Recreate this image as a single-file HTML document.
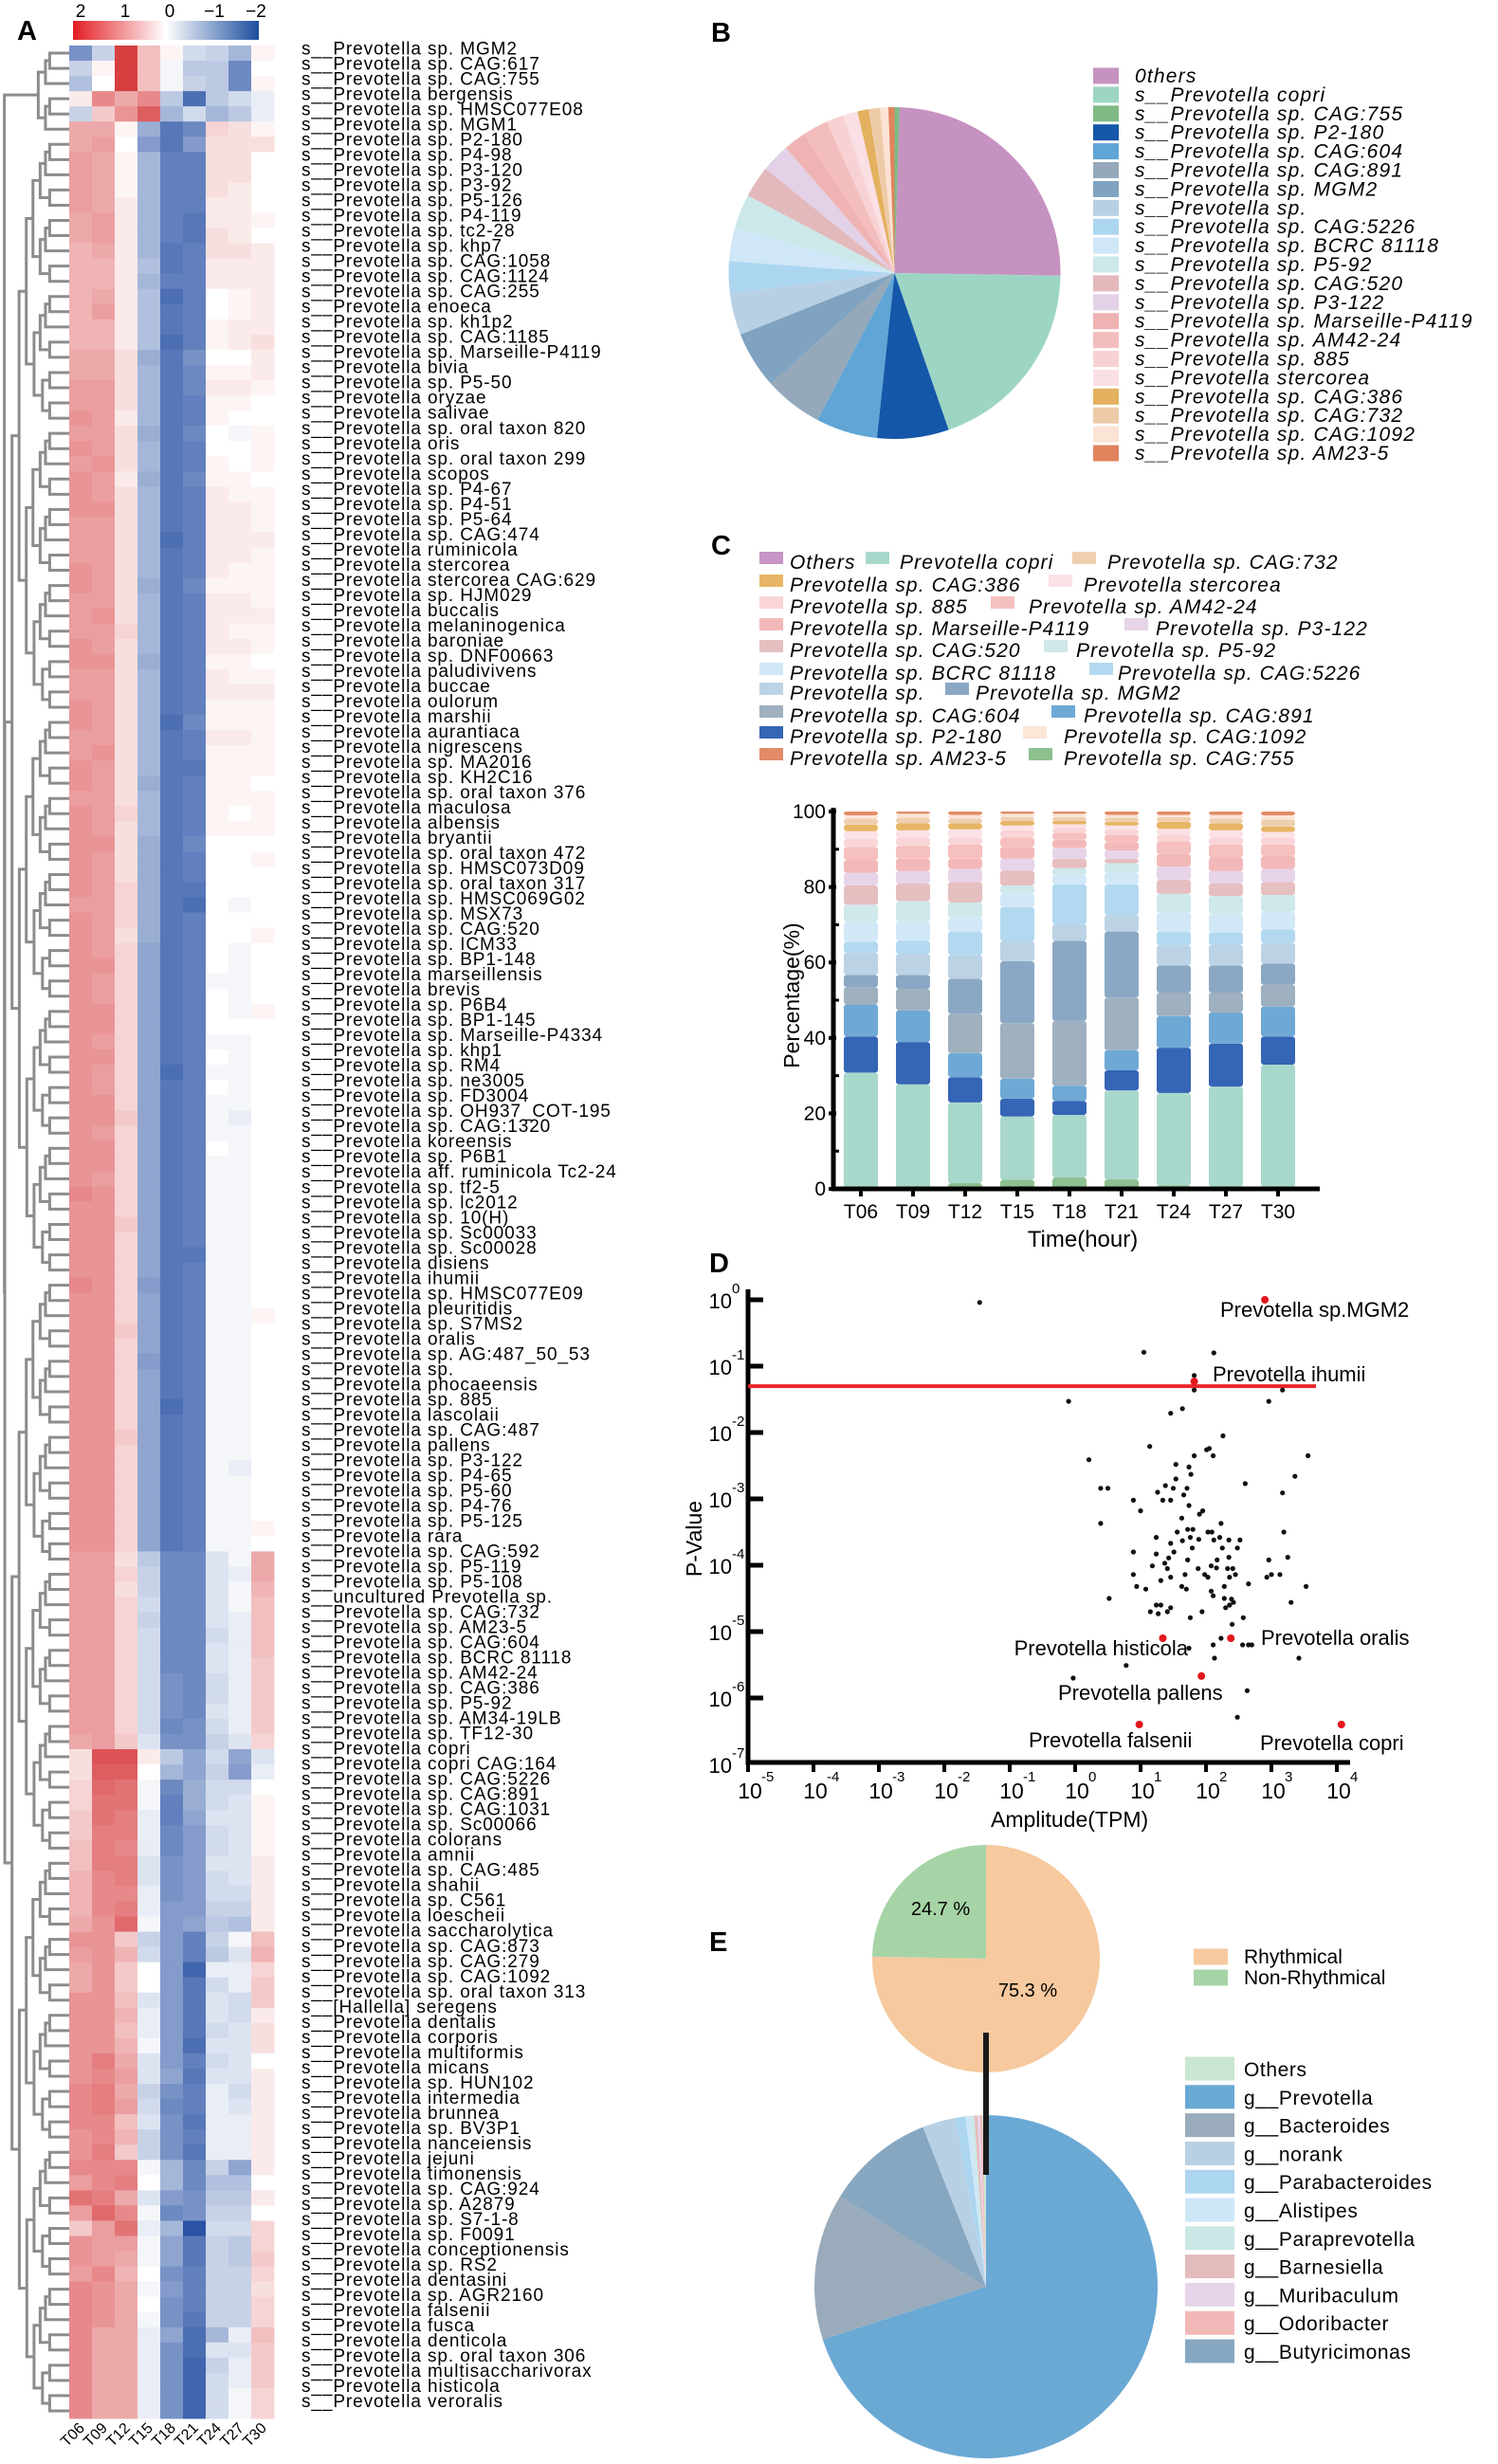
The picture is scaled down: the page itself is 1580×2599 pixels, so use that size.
<!DOCTYPE html>
<html><head><meta charset="utf-8"><title>Prevotella rhythmicity figure</title>
<style>
html,body{margin:0;padding:0;background:#fff;}
svg{display:block;font-family:"Liberation Sans",Arial,sans-serif;}
</style></head>
<body>
<svg id="fig" xmlns="http://www.w3.org/2000/svg" width="1580" height="2599" viewBox="0 0 1580 2599">
<defs>
<linearGradient id="cbar" x1="0" x2="1" y1="0" y2="0">
<stop offset="0" stop-color="#e31e24"/><stop offset="0.5" stop-color="#ffffff"/><stop offset="1" stop-color="#1b4d9e"/>
</linearGradient>
</defs>
<rect x="0" y="0" width="1580" height="2599" fill="#fff"/>
<text x="18" y="42" font-size="29" font-weight="bold">A</text>
<text x="750" y="44" font-size="29" font-weight="bold">B</text>
<text x="750" y="585" font-size="29" font-weight="bold">C</text>
<text x="748" y="1342" font-size="29" font-weight="bold">D</text>
<text x="748" y="2058" font-size="29" font-weight="bold">E</text>
<rect x="77" y="22" width="196" height="20" fill="url(#cbar)"/>
<text x="85" y="18" font-size="19" text-anchor="middle">2</text>
<text x="132" y="18" font-size="19" text-anchor="middle">1</text>
<text x="179" y="18" font-size="19" text-anchor="middle">0</text>
<text x="226" y="18" font-size="19" text-anchor="middle">−1</text>
<text x="270" y="18" font-size="19" text-anchor="middle">−2</text>
</svg>
<script>
// ---------------- Panel A data ----------------
const heatCols = ["T06","T09","T12","T15","T18","T21","T24","T27","T30"];
const species = ["Prevotella sp. MGM2","Prevotella sp. CAG:617","Prevotella sp. CAG:755","Prevotella bergensis","Prevotella sp. HMSC077E08","Prevotella sp. MGM1","Prevotella sp. P2-180","Prevotella sp. P4-98","Prevotella sp. P3-120","Prevotella sp. P3-92","Prevotella sp. P5-126","Prevotella sp. P4-119","Prevotella sp. tc2-28","Prevotella sp. khp7","Prevotella sp. CAG:1058","Prevotella sp. CAG:1124","Prevotella sp. CAG:255","Prevotella enoeca","Prevotella sp. kh1p2","Prevotella sp. CAG:1185","Prevotella sp. Marseille-P4119","Prevotella bivia","Prevotella sp. P5-50","Prevotella oryzae","Prevotella salivae","Prevotella sp. oral taxon 820","Prevotella oris","Prevotella sp. oral taxon 299","Prevotella scopos","Prevotella sp. P4-67","Prevotella sp. P4-51","Prevotella sp. P5-64","Prevotella sp. CAG:474","Prevotella ruminicola","Prevotella stercorea","Prevotella stercorea CAG:629","Prevotella sp. HJM029","Prevotella buccalis","Prevotella melaninogenica","Prevotella baroniae","Prevotella sp. DNF00663","Prevotella paludivivens","Prevotella buccae","Prevotella oulorum","Prevotella marshii","Prevotella aurantiaca","Prevotella nigrescens","Prevotella sp. MA2016","Prevotella sp. KH2C16","Prevotella sp. oral taxon 376","Prevotella maculosa","Prevotella albensis","Prevotella bryantii","Prevotella sp. oral taxon 472","Prevotella sp. HMSC073D09","Prevotella sp. oral taxon 317","Prevotella sp. HMSC069G02","Prevotella sp. MSX73","Prevotella sp. CAG:520","Prevotella sp. ICM33","Prevotella sp. BP1-148","Prevotella marseillensis","Prevotella brevis","Prevotella sp. P6B4","Prevotella sp. BP1-145","Prevotella sp. Marseille-P4334","Prevotella sp. khp1","Prevotella sp. RM4","Prevotella sp. ne3005","Prevotella sp. FD3004","Prevotella sp. OH937_COT-195","Prevotella sp. CAG:1320","Prevotella koreensis","Prevotella sp. P6B1","Prevotella aff. ruminicola Tc2-24","Prevotella sp. tf2-5","Prevotella sp. lc2012","Prevotella sp. 10(H)","Prevotella sp. Sc00033","Prevotella sp. Sc00028","Prevotella disiens","Prevotella ihumii","Prevotella sp. HMSC077E09","Prevotella pleuritidis","Prevotella sp. S7MS2","Prevotella oralis","Prevotella sp. AG:487_50_53","Prevotella sp.","Prevotella phocaeensis","Prevotella sp. 885","Prevotella lascolaii","Prevotella sp. CAG:487","Prevotella pallens","Prevotella sp. P3-122","Prevotella sp. P4-65","Prevotella sp. P5-60","Prevotella sp. P4-76","Prevotella sp. P5-125","Prevotella rara","Prevotella sp. CAG:592","Prevotella sp. P5-119","Prevotella sp. P5-108","uncultured Prevotella sp.","Prevotella sp. CAG:732","Prevotella sp. AM23-5","Prevotella sp. CAG:604","Prevotella sp. BCRC 81118","Prevotella sp. AM42-24","Prevotella sp. CAG:386","Prevotella sp. P5-92","Prevotella sp. AM34-19LB","Prevotella sp. TF12-30","Prevotella copri","Prevotella copri CAG:164","Prevotella sp. CAG:5226","Prevotella sp. CAG:891","Prevotella sp. CAG:1031","Prevotella sp. Sc00066","Prevotella colorans","Prevotella amnii","Prevotella sp. CAG:485","Prevotella shahii","Prevotella sp. C561","Prevotella loescheii","Prevotella saccharolytica","Prevotella sp. CAG:873","Prevotella sp. CAG:279","Prevotella sp. CAG:1092","Prevotella sp. oral taxon 313","[Hallella] seregens","Prevotella dentalis","Prevotella corporis","Prevotella multiformis","Prevotella micans","Prevotella sp. HUN102","Prevotella intermedia","Prevotella brunnea","Prevotella sp. BV3P1","Prevotella nanceiensis","Prevotella jejuni","Prevotella timonensis","Prevotella sp. CAG:924","Prevotella sp. A2879","Prevotella sp. S7-1-8","Prevotella sp. F0091","Prevotella conceptionensis","Prevotella sp. RS2","Prevotella dentasini","Prevotella sp. AGR2160","Prevotella falsenii","Prevotella fusca","Prevotella denticola","Prevotella sp. oral taxon 306","Prevotella multisaccharivorax","Prevotella histicola","Prevotella veroralis"];
// z-scores x10, one row per species, columns T06..T30
const heatValues = [
[-12,-5,18,6,1,-4,-5,-8,1],[-5,1,18,6,-1,-6,-6,-13,0],[-7,0,18,6,-1,-5,-6,-13,1],[2,11,8,11,-6,-16,-6,-4,-2],[-5,5,10,15,-8,-4,-8,-6,-2],
[8,8,1,-9,-15,-13,4,3,1],[8,9,0,-11,-15,-11,3,3,3],[9,8,1,-8,-14,-14,3,3,0],[9,8,1,-8,-14,-14,3,3,0],[9,8,1,-8,-14,-14,3,2,0],
[9,8,2,-8,-14,-14,2,2,0],[8,9,2,-8,-14,-15,2,2,1],[8,9,2,-8,-14,-15,3,2,0],[7,8,2,-8,-15,-14,3,3,2],[7,7,2,-7,-15,-14,2,2,2],
[7,7,2,-8,-14,-14,2,2,2],[7,8,2,-7,-16,-14,0,1,2],[7,9,2,-7,-15,-14,0,1,2],[7,7,2,-7,-15,-14,1,2,2],[7,7,2,-7,-16,-14,1,2,3],
[8,8,3,-9,-15,-12,0,0,2],[8,8,3,-8,-15,-13,1,1,2],[9,9,3,-8,-15,-13,2,2,1],[9,9,3,-8,-15,-14,1,1,0],[10,9,2,-8,-15,-14,1,0,0],
[9,9,3,-9,-15,-13,0,-1,1],[10,9,3,-8,-15,-14,0,0,1],[9,10,3,-8,-15,-14,1,0,1],[10,9,2,-9,-15,-13,1,1,0],[10,9,3,-8,-15,-14,2,1,1],
[10,10,3,-8,-15,-14,2,2,1],[9,9,3,-8,-15,-14,2,2,1],[9,9,3,-8,-16,-14,2,2,2],[9,9,3,-8,-15,-14,2,2,1],[10,9,3,-8,-15,-14,2,1,1],
[10,9,3,-9,-15,-13,1,1,1],[9,9,3,-8,-15,-14,2,2,1],[9,10,3,-8,-15,-14,2,2,2],[9,9,4,-8,-15,-14,2,1,1],[10,9,3,-8,-15,-14,2,2,1],
[10,10,3,-9,-15,-14,1,1,0],[9,9,3,-8,-15,-14,2,1,1],[9,9,3,-8,-15,-14,2,2,2],[10,9,3,-8,-15,-14,1,1,1],[10,9,3,-8,-16,-13,1,1,1],
[9,9,3,-8,-15,-14,2,2,1],[9,10,3,-8,-15,-14,1,1,1],[10,9,3,-8,-15,-15,1,1,1],[10,9,3,-9,-15,-14,1,1,0],[9,9,3,-8,-15,-14,1,1,1],
[10,9,4,-8,-15,-14,1,0,1],[10,9,3,-8,-15,-14,1,1,1],[10,10,3,-9,-15,-13,0,0,0],[10,9,3,-9,-15,-14,0,0,1],[10,9,3,-9,-15,-14,0,0,0],
[10,9,4,-9,-15,-15,0,0,0],[9,9,4,-9,-15,-16,0,-1,0],[10,9,4,-9,-15,-14,0,0,0],[10,9,3,-9,-15,-14,0,0,1],[10,9,4,-10,-15,-14,0,-1,0],
[10,10,4,-10,-15,-14,0,-1,0],[10,9,4,-10,-15,-14,-1,-1,0],[10,9,4,-10,-15,-14,0,-1,0],[10,10,4,-10,-15,-14,0,-1,1],[10,10,4,-10,-15,-14,0,0,0],
[10,9,4,-10,-15,-14,-1,-1,0],[10,10,4,-10,-15,-14,0,-1,0],[10,9,4,-10,-16,-14,-1,-1,0],[10,9,4,-10,-15,-14,0,-1,0],[10,10,4,-10,-15,-14,-1,-1,0],
[10,10,5,-10,-15,-14,-1,-2,0],[10,9,4,-10,-15,-14,-1,-1,0],[10,10,4,-10,-15,-14,0,-1,0],[10,10,4,-10,-15,-14,-1,-1,0],[10,9,4,-10,-15,-14,-1,-1,0],
[11,10,4,-10,-15,-14,-1,-1,0],[10,10,4,-10,-15,-14,-1,-1,0],[10,10,5,-10,-15,-14,-1,-1,0],[10,10,4,-10,-15,-14,-1,-1,0],[10,10,4,-10,-15,-15,-1,-1,0],
[10,10,4,-10,-15,-14,-1,-1,0],[11,10,4,-11,-15,-14,-1,-1,0],[10,10,4,-10,-15,-14,-1,-1,0],[10,10,4,-10,-15,-14,-1,-1,1],[10,10,5,-10,-15,-14,-1,-1,0],
[10,10,4,-10,-15,-14,-1,-1,0],[10,10,4,-11,-15,-14,-1,-1,0],[10,10,4,-10,-15,-14,-1,-1,0],[10,10,4,-10,-15,-14,-1,-1,0],[10,10,4,-10,-16,-14,-1,-1,0],
[10,10,4,-10,-15,-14,-1,-1,0],[10,10,5,-10,-15,-14,-1,-1,0],[10,10,4,-10,-15,-14,-1,-1,0],[10,10,4,-10,-15,-14,-1,-2,0],[10,10,4,-10,-15,-14,-1,-1,0],
[10,10,4,-10,-15,-14,-1,-1,0],[10,10,4,-10,-15,-14,-1,-1,0],[10,10,4,-10,-15,-14,-1,-1,1],[10,10,4,-10,-15,-14,-1,-1,0],[9,9,3,-6,-13,-13,-3,-1,8],
[9,9,4,-5,-13,-13,-3,-2,8],[9,9,3,-5,-13,-13,-3,-1,7],[9,9,4,-4,-13,-13,-3,-1,6],[9,9,4,-5,-13,-13,-3,-2,6],[9,9,4,-4,-13,-13,-4,-2,6],
[9,9,4,-4,-13,-13,-3,-2,6],[9,9,4,-4,-13,-13,-3,-2,5],[9,9,4,-4,-12,-13,-4,-2,5],[9,9,4,-4,-12,-13,-4,-2,5],[9,9,4,-4,-12,-13,-3,-2,5],
[9,9,4,-4,-13,-12,-4,-2,5],[8,9,5,-3,-12,-12,-5,-3,4],[3,16,16,2,-6,-10,-4,-10,-3],[3,15,15,0,-8,-10,-5,-11,-2],[4,14,13,-1,-13,-9,-4,-4,0],
[4,13,13,-1,-14,-9,-4,-3,1],[5,13,12,-2,-14,-10,-3,-3,1],[5,12,12,-2,-13,-11,-4,-3,1],[6,12,11,-2,-13,-11,-4,-3,1],[6,12,12,-3,-12,-11,-3,-3,2],
[7,11,12,-3,-12,-11,-4,-3,2],[7,11,11,-2,-12,-11,-4,-4,2],[7,11,12,-2,-11,-11,-5,-5,2],[8,10,14,-1,-11,-10,-6,-7,2],[10,10,5,-5,-11,-14,-5,-1,6],
[9,10,7,-4,-11,-14,-6,-3,7],[8,10,5,0,-11,-17,-2,-2,4],[8,10,5,0,-11,-15,-4,-2,5],[10,10,6,-3,-11,-15,-3,-4,5],[10,10,7,-2,-11,-15,-3,-4,2],
[10,10,6,-2,-11,-15,-4,-3,3],[10,10,7,-1,-11,-16,-3,-3,3],[10,12,8,-3,-11,-14,-4,-3,0],[10,11,9,-3,-10,-15,-3,-3,2],[11,12,8,-5,-12,-14,-2,-4,2],
[11,12,9,-4,-13,-14,-2,-3,2],[11,11,6,-3,-12,-15,-2,-2,2],[10,11,7,-5,-12,-14,-2,-2,2],[10,12,5,-5,-12,-15,-2,-2,2],[11,11,11,-1,-8,-13,-5,-10,2],
[9,11,12,0,-8,-13,-7,-7,0],[13,12,8,-3,-11,-12,-6,-6,2],[9,14,11,-1,-13,-12,-5,-5,0],[5,9,13,-2,-8,-19,-4,-4,4],[10,9,9,-1,-10,-15,-5,-6,4],
[10,9,8,-1,-10,-15,-5,-6,5],[9,11,7,0,-12,-14,-5,-5,4],[11,10,8,-1,-11,-14,-5,-5,3],[11,10,8,0,-12,-14,-5,-5,4],[11,10,8,-1,-12,-15,-5,-5,4],
[11,8,8,-2,-10,-16,-8,-2,6],[11,8,8,-2,-12,-16,-3,-3,5],[11,8,8,-2,-12,-17,-5,-2,5],[11,8,8,-2,-12,-17,-4,-2,5],[11,8,8,-2,-12,-17,-4,-1,4],
[11,8,8,-2,-12,-17,-4,-1,4]
];
// ---------------- Panel B data ----------------
const pieBNames = ["s__Prevotella sp. CAG:755","0thers","s__Prevotella copri","s__Prevotella sp. P2-180","s__Prevotella sp. CAG:604","s__Prevotella sp. CAG:891","s__Prevotella sp. MGM2","s__Prevotella sp.","s__Prevotella sp. CAG:5226","s__Prevotella sp. BCRC 81118","s__Prevotella sp. P5-92","s__Prevotella sp. CAG:520","s__Prevotella sp. P3-122","s__Prevotella sp. Marseille-P4119","s__Prevotella sp. AM42-24","s__Prevotella sp. 885","s__Prevotella stercorea","s__Prevotella sp. CAG:386","s__Prevotella sp. CAG:732","s__Prevotella sp. CAG:1092","s__Prevotella sp. AM23-5"];
const pieBValues = [0.5,24.8,19.5,7,6,5.7,5.6,4.1,3.1,3.3,3.3,3.1,2.8,2.2,2.5,1.7,1.4,1.1,1.1,0.8,0.6];
const legendBOrder = ["0thers","s__Prevotella copri","s__Prevotella sp. CAG:755","s__Prevotella sp. P2-180","s__Prevotella sp. CAG:604","s__Prevotella sp. CAG:891","s__Prevotella sp. MGM2","s__Prevotella sp.","s__Prevotella sp. CAG:5226","s__Prevotella sp. BCRC 81118","s__Prevotella sp. P5-92","s__Prevotella sp. CAG:520","s__Prevotella sp. P3-122","s__Prevotella sp. Marseille-P4119","s__Prevotella sp. AM42-24","s__Prevotella sp. 885","s__Prevotella stercorea","s__Prevotella sp. CAG:386","s__Prevotella sp. CAG:732","s__Prevotella sp. CAG:1092","s__Prevotella sp. AM23-5"];
// ---------------- Panel C data ----------------
const timePoints = ["T06","T09","T12","T15","T18","T21","T24","T27","T30"];
const stackSeries = ["Prevotella sp. CAG:755","Prevotella copri","Prevotella sp. P2-180","Prevotella sp. CAG:891","Prevotella sp. CAG:604","Prevotella sp. MGM2","Prevotella sp.","Prevotella sp. CAG:5226","Prevotella sp. BCRC 81118","Prevotella sp. P5-92","Prevotella sp. CAG:520","Prevotella sp. P3-122","Prevotella sp. Marseille-P4119","Prevotella sp. AM42-24","Prevotella sp. 885","Prevotella stercorea","Prevotella sp. CAG:386","Prevotella sp. CAG:732","Prevotella sp. CAG:1092","Prevotella sp. AM23-5"];
// cumulative upper bound (%) of each series per time point
const cumCAG755 = [0,0,1.5,2.4,3,2.5,0.9,0.6,0.5];
const cumCopri = [30.8,27.7,22.9,19.2,19.6,26.1,25.4,27.1,32.9];
const cumP2180 = [40.4,38.9,29.6,23.9,23.3,31.4,37.4,38.5,40.4];
const cumCAG891 = [48.9,47.3,36,29.2,27.3,36.7,45.8,46.8,48.3];
const cumCAG604 = [53.5,53,46.4,43.9,44.5,50.7,52,52,54.1];
const cumMGM2 = [56.7,56.7,55.7,60.3,65.7,68.2,59.2,59.2,59.7];
const cumSp = [62.6,62.3,62,65.7,70.1,72.6,64.5,64.7,65.1];
const cumCAG5226 = [65.5,65.7,68.2,74.7,80.7,80.7,68.2,68,68.8];
const cumBCRC = [70.7,70.9,71.9,78.2,83.2,83.8,73.2,72.9,73.4];
const cumP592 = [75.3,76.3,75.9,80.4,85,86.3,78.2,77.6,77.9];
const cumCAG520 = [80.4,80.9,81.3,84.4,87.5,87.5,81.9,81,81.3];
const cumP3122 = [83.8,84.2,84.8,87.5,90.4,89.7,85.4,84.2,84.8];
const cumMarseille = [87.2,87.5,87.5,90.6,92.5,91.9,88.8,87.8,88.2];
const cumAM4224 = [90.6,90.9,91.3,93.1,94.4,93.8,92.1,91.3,91.3];
const cum885 = [92.8,93.1,93.1,95,95.6,95.3,93.8,93.1,93.1];
const cumStercorea = [94.8,95,95.3,96.3,96.6,96.3,95.4,95,94.6];
const cumCAG386 = [96.5,96.9,96.9,97.5,97.5,97.3,97.3,96.9,96];
const cumCAG732 = [98.1,98.4,98.1,98.5,98.5,98.4,98.5,98.1,97.9];
const cumCAG1092 = [99,99.4,99.1,99.4,99.4,99.1,99.1,99.1,99];
const cumAM235 = [100,100,100,100,100,100,100,100,100];
const yTicksC = [0,20,40,60,80,100];
// ---------------- Panel D data (log10 values) ----------------
const ampLog = [-1.46,1.05,2.12,1.82,1.82,3.17,-0.10,2.96,1.46,1.64,2.26,1.14,2.01,2.05,2.11,1.82,3.56,0.21,1.54,1.74,1.77,3.36,1.54,1.38,2.60,0.39,0.50,1.50,1.71,1.26,1.66,3.17,0.89,1.34,1.46,1.74,1.00,1.95,1.90,1.63,0.39,2.23,1.56,1.72,1.80,2.03,2.09,3.19,1.24,1.46,1.64,1.76,1.89,2.12,2.21,2.35,2.52,1.79,1.51,2.25,2.48,0.89,1.24,1.43,1.72,2.35,2.17,3.25,2.96,1.18,1.37,1.88,2.08,2.16,2.33,2.41,1.41,0.89,1.98,2.45,2.93,3.13,3.00,1.46,1.68,1.31,2.03,2.36,0.94,1.08,1.63,1.70,2.28,2.65,3.53,2.08,2.11,2.28,2.39,2.42,2.36,2.30,0.52,3.30,1.24,1.31,1.46,1.15,1.27,1.41,1.94,1.76,2.57,2.40,2.23,2.11,2.56,2.65,2.70,1.74,2.13,3.42,0.78,-0.03,2.63,2.48];
const pLog = [-0.04,-0.79,-0.80,-1.14,-1.36,-1.36,-1.53,-1.53,-1.71,-1.64,-2.05,-2.21,-2.26,-2.24,-2.35,-2.35,-2.35,-2.41,-2.48,-2.52,-2.63,-2.66,-2.70,-2.80,-2.77,-2.84,-2.84,-2.84,-2.84,-2.90,-2.94,-2.91,-3.02,-3.02,-3.02,-3.10,-3.18,-3.18,-3.23,-3.29,-3.37,-3.37,-3.50,-3.46,-3.46,-3.50,-3.50,-3.50,-3.58,-3.67,-3.63,-3.58,-3.61,-3.62,-3.58,-3.62,-3.62,-3.74,-3.80,-3.74,-3.74,-3.80,-3.83,-3.89,-3.92,-3.88,-3.92,-3.88,-3.92,-4.01,-3.97,-4.05,-4.01,-4.04,-4.05,-4.05,-4.05,-4.14,-4.14,-4.14,-4.18,-4.14,-4.14,-4.18,-4.14,-4.23,-4.18,-4.18,-4.32,-4.36,-4.32,-4.36,-4.32,-4.28,-4.32,-4.39,-4.46,-4.50,-4.51,-4.56,-4.60,-4.64,-4.50,-4.56,-4.60,-4.60,-4.64,-4.70,-4.73,-4.70,-4.70,-4.79,-4.79,-4.89,-5.10,-5.20,-5.20,-5.20,-5.20,-5.25,-5.40,-5.40,-5.51,-5.70,-5.89,-6.29];
const hiNames = ["Prevotella sp.MGM2","Prevotella ihumii","Prevotella histicola","Prevotella oralis","Prevotella pallens","Prevotella falsenii","Prevotella copri"];
const hiAmpLog = [2.90,1.82,1.34,2.38,1.93,0.98,4.07];
const hiPLog = [0.0,-1.23,-5.10,-5.10,-5.67,-6.40,-6.40];
const pCutoff = 0.05;
const xDecades = [-5,-4,-3,-2,-1,0,1,2,3,4];
const yDecades = [0,-1,-2,-3,-4,-5,-6,-7];
// ---------------- Panel E data ----------------
const rhythmNames = ["Rhythmical","Non-Rhythmical"];
const rhythmValues = [75.3,24.7];
const genusNames = ["g__Prevotella","g__Bacteroides","g__Butyricimonas","g__norank","g__Parabacteroides","g__Alistipes","g__Paraprevotella","g__Barnesiella","g__Muribaculum","g__Odoribacter","Others"];
const genusValues = [70.1,13.8,10.2,3.1,1.0,0.5,0.3,0.3,0.25,0.2,0.35];
const legendEOrder = ["Others","g__Prevotella","g__Bacteroides","g__norank","g__Parabacteroides","g__Alistipes","g__Paraprevotella","g__Barnesiella","g__Muribaculum","g__Odoribacter","g__Butyricimonas"];

// ---------------- drawing ----------------
const NS = "http://www.w3.org/2000/svg";
const svg = document.getElementById("fig");
function mk(tag, attrs, parent) {
  const e = document.createElementNS(NS, tag);
  for (const k in attrs) e.setAttribute(k, attrs[k]);
  (parent || svg).appendChild(e);
  return e;
}
function txt(str, attrs) { const e = mk("text", attrs); e.textContent = str; return e; }
function hex2(c){return [parseInt(c.substr(1,2),16),parseInt(c.substr(3,2),16),parseInt(c.substr(5,2),16)];}
function mix(a,b,t){const A=hex2(a),B=hex2(b);return "rgb("+A.map((v,i)=>Math.round(v+(B[i]-v)*t)).join(",")+")";}
function heatColor(v){
  const t=Math.min(1,Math.abs(v)/2);
  return v>=0 ? mix("#ffffff","#d3282b",t) : mix("#ffffff","#1f4aa0",t);
}
function polar(cx,cy,r,deg){const a=(deg-90)*Math.PI/180;return [cx+r*Math.cos(a),cy+r*Math.sin(a)];}
function slicePath(cx,cy,r,a0,a1){
  const p0=polar(cx,cy,r,a0),p1=polar(cx,cy,r,a1);
  const large=(a1-a0)>180?1:0;
  return "M"+cx+","+cy+" L"+p0[0]+","+p0[1]+" A"+r+","+r+" 0 "+large+" 1 "+p1[0]+","+p1[1]+" Z";
}

// ===== Panel A heatmap =====
const hmX0=73, colW=24, hmY0=48, rowH=(2551-48)/156;
heatValues.forEach((row,i)=>{
  row.forEach((v,j)=>{
    const r=mk("rect",{x:hmX0+j*colW,y:(hmY0+i*rowH).toFixed(2),width:colW+0.4,height:(rowH+0.4).toFixed(2),fill:heatColor(v/10)});
    
    
  });
});
species.forEach((s,i)=>{
  const t=txt("s__"+s,{x:318,y:(52+i*16.01).toFixed(1),"font-size":19,"dominant-baseline":"central","letter-spacing":"0.9"});
  
  
});
heatCols.forEach((c,j)=>{
  const cx=hmX0+j*colW+colW/2;
  const t=txt(c,{x:0,y:0,"font-size":16,"text-anchor":"end",transform:"translate("+(cx+5)+",2562) rotate(-45)"});
  
  
});
const dendro=mk("g",{stroke:"#8c8c8c","stroke-width":3,fill:"none"});


function rowCenter(i){return hmY0+(i+0.5)*rowH;}
function build(a,b){
  const n=b-a+1;
  if(n===1) return {y:rowCenter(a),x:hmX0};
  let m = (a===0 && b===heatValues.length-1) ? 5 : Math.floor((a+b)/2);
  const L=build(a,m), R=build(m+1,b);
  const x=Math.max(3,60-7.6*Math.log2(n));
  const p=mk("path",{d:"M"+L.x+","+L.y+" H"+x+" V"+R.y+" H"+R.x},dendro);
  
  
  return {y:(L.y+R.y)/2,x:x};
}
const root=build(0,heatValues.length-1);

// ===== Panel B pie =====
const colorB = {"0thers":"#c692c1","s__Prevotella copri":"#9dd5c5","s__Prevotella sp. CAG:755":"#7fba84","s__Prevotella sp. P2-180":"#1557a8","s__Prevotella sp. CAG:604":"#5fa5d5","s__Prevotella sp. CAG:891":"#95a9ba","s__Prevotella sp. MGM2":"#7fa3c0","s__Prevotella sp.":"#b8d0e4","s__Prevotella sp. CAG:5226":"#acd6f0","s__Prevotella sp. BCRC 81118":"#cfe7f7","s__Prevotella sp. P5-92":"#cce8e8","s__Prevotella sp. CAG:520":"#e3b9bc","s__Prevotella sp. P3-122":"#e3d1e7","s__Prevotella sp. Marseille-P4119":"#f0b3b3","s__Prevotella sp. AM42-24":"#f4bdbd","s__Prevotella sp. 885":"#f7d2d4","s__Prevotella stercorea":"#fadfe4","s__Prevotella sp. CAG:386":"#e3b15f","s__Prevotella sp. CAG:732":"#eecba8","s__Prevotella sp. CAG:1092":"#fbe3d5","s__Prevotella sp. AM23-5":"#e0845e"};
const sumB=pieBValues.reduce((a,b)=>a+b,0);
let angB=0;
pieBValues.forEach((v,i)=>{
  const a1=angB+v/sumB*360;
  const p=mk("path",{d:slicePath(943.5,288,175,angB,a1),fill:colorB[pieBNames[i]]});
  
  
  angB=a1;
});
legendBOrder.forEach((n,i)=>{
  const y=80+i*19.9;
  const r=mk("rect",{x:1153,y:y-8.5,width:27,height:17,fill:colorB[n]});
  
  
  const t=txt(n,{x:1197,y:y+7,"font-size":21,"font-style":"italic","letter-spacing":"1.2"});
  
  
});

// ===== Panel C stacked bars =====
const colorC = ["#8cc08f","#a8d8cb","#3565b5","#6ea9d5","#9fb0bf","#8aa8c4","#bcd3e5","#b3d9f1","#d2e8f7","#cfe8ea","#e6bfc1","#e7d4e9","#f3b9b9","#f6c0bf","#f9d5d7","#fbe2e6","#e7b565","#efcfb0","#fbe6d8","#e28b68"];
const cumC = [cumCAG755,cumCopri,cumP2180,cumCAG891,cumCAG604,cumMGM2,cumSp,cumCAG5226,cumBCRC,cumP592,cumCAG520,cumP3122,cumMarseille,cumAM4224,cum885,cumStercorea,cumCAG386,cumCAG732,cumCAG1092,cumAM235];
const yC = v => 1254 - v*3.98;
const xC = i => 908 + i*55;
timePoints.forEach((tp,i)=>{
  let prev=0;
  cumC.forEach((arr,s)=>{
    const top=arr[i];
    if(top-prev>0.05){
      const r=mk("rect",{x:xC(i)-18,y:yC(top),width:36,height:Math.max(0,yC(prev)-yC(top)),rx:3,fill:colorC[s]});
      
      
    }
    prev=Math.max(prev,top);
  });
  const tk=mk("line",{x1:xC(i),x2:xC(i),y1:1254,y2:1262,stroke:"#000","stroke-width":4});
  
  
  const t=txt(tp,{x:xC(i),y:1285,"font-size":21,"text-anchor":"middle"});
  
  
});
const axC=mk("path",{d:"M879,852 V1254 H1392",stroke:"#000","stroke-width":5,fill:"none"});


yTicksC.forEach(v=>{
  const l=mk("line",{x1:874,x2:882,y1:yC(v),y2:yC(v),stroke:"#000","stroke-width":4});
  
  
  const t=txt(String(v),{x:871,y:yC(v)+7,"font-size":21,"text-anchor":"end"});
  
  
  if(v<100){
    const m=mk("line",{x1:879,x2:885,y1:yC(v+10),y2:yC(v+10),stroke:"#000","stroke-width":3});
    
    
  }
});
const tTitleC=txt("Time(hour)",{x:1142,y:1315,"font-size":24,"text-anchor":"middle"});


const yTitleC=txt("Percentage(%)",{x:0,y:0,"font-size":23,"text-anchor":"middle",transform:"translate(843,1050) rotate(-90)"});


const legendC = [
 [801,595,"#c995c6",833,"Others"],[913,595,"#a8d8cb",949,"Prevotella copri"],[1131,595,"#efcfb0",1168,"Prevotella sp. CAG:732"],
 [801,619,"#e7b565",833,"Prevotella sp. CAG:386"],[1106,619,"#fbe2e6",1143,"Prevotella stercorea"],
 [801,642,"#f9d5d7",833,"Prevotella sp. 885"],[1045,642,"#f6c0bf",1085,"Prevotella sp. AM42-24"],
 [801,665,"#f3b9b9",833,"Prevotella sp. Marseille-P4119"],[1186,665,"#e7d4e9",1219,"Prevotella sp. P3-122"],
 [801,688,"#e6bfc1",833,"Prevotella sp. CAG:520"],[1101,688,"#cfe8ea",1135,"Prevotella sp. P5-92"],
 [801,712,"#d2e8f7",833,"Prevotella sp. BCRC 81118"],[1149,712,"#b3d9f1",1179,"Prevotella sp. CAG:5226"],
 [801,733,"#bcd3e5",833,"Prevotella sp."],[997,733,"#8aa8c4",1029,"Prevotella sp. MGM2"],
 [801,757,"#9fb0bf",833,"Prevotella sp. CAG:604"],[1109,757,"#6ea9d5",1143,"Prevotella sp. CAG:891"],
 [801,779,"#3565b5",833,"Prevotella sp. P2-180"],[1079,779,"#fbe6d8",1122,"Prevotella sp. CAG:1092"],
 [801,802,"#e28b68",833,"Prevotella sp. AM23-5"],[1085,802,"#8cc08f",1122,"Prevotella sp. CAG:755"]
];
legendC.forEach(e=>{
  const r=mk("rect",{x:e[0],y:e[1]-13,width:25,height:13,fill:e[2]});
  
  
  const t=txt(e[4],{x:e[3],y:e[1]+5,"font-size":21,"font-style":"italic","letter-spacing":"1.1"});
  
  
});

// ===== Panel D scatter =====
const xD = lx => 789 + (lx+5)*69;
const yD = ly => 1371 - ly*70;
const axD=mk("path",{d:"M789,1360 V1859 H1424",stroke:"#000","stroke-width":5,fill:"none"});


yDecades.forEach(d=>{
  const y=yD(d);
  if(d>-7){
    const l=mk("line",{x1:789,x2:805,y1:y,y2:y,stroke:"#000","stroke-width":5});
    
    
  }
  const t=txt("10",{x:772,y:y+9,"font-size":22,"text-anchor":"end"});
  
  
  const s=txt(d===0?"0":String(d),{x:772,y:y-7,"font-size":15});
  
  
});
xDecades.forEach(d=>{
  const x=xD(d);
  const l=mk("line",{x1:x,x2:x,y1:1859,y2:1869,stroke:"#000","stroke-width":4});
  
  
  const t=txt("10",{x:x+2,y:1897,"font-size":23,"text-anchor":"middle"});
  
  
  const s=txt(String(d),{x:x+14,y:1879,"font-size":15});
  
  
});
const cut=mk("line",{x1:789,x2:1388,y1:yD(Math.log10(pCutoff)),y2:yD(Math.log10(pCutoff)),stroke:"#e8262a","stroke-width":4});


ampLog.forEach((a,i)=>{
  const c=mk("circle",{cx:xD(a),cy:yD(pLog[i]),r:2.6,fill:"#111"});
  
  
});
const hiLabelPos=[[1287,1389,"start"],[1279,1457,"start"],[1253,1746,"end"],[1330,1735,"start"],[1116,1793,"start"],[1085,1843,"start"],[1329,1846,"start"]];
hiAmpLog.forEach((a,i)=>{
  const c=mk("circle",{cx:xD(a),cy:yD(hiPLog[i]),r:4,fill:"#e3161c"});
  
  
  const t=txt(hiNames[i],{x:hiLabelPos[i][0],y:hiLabelPos[i][1],"font-size":22,"text-anchor":hiLabelPos[i][2]});
  
  
});
const yTitleD=txt("P-Value",{x:0,y:0,"font-size":23,"text-anchor":"middle",transform:"translate(740,1623) rotate(-90)"});


const xTitleD=txt("Amplitude(TPM)",{x:1045,y:1927,"font-size":23});



// ===== Panel E =====
const rhythmColors=["#f6c99e","#a6d4a6"];
const sumR=rhythmValues.reduce((a,b)=>a+b,0);
let angR=0;
rhythmValues.forEach((v,i)=>{
  const a1=angR+v/sumR*360;
  const p=mk("path",{d:slicePath(1040,2066,120,angR,a1),fill:rhythmColors[i]});
  
  
  angR=a1;
});
const pctR=txt(rhythmValues[0].toFixed(1)+" %",{x:1084,y:2106,"font-size":20,"text-anchor":"middle"});


const pctN=txt(rhythmValues[1].toFixed(1)+" %",{x:992,y:2020,"font-size":20,"text-anchor":"middle"});


rhythmNames.forEach((n,i)=>{
  const y=2064+i*22;
  const r=mk("rect",{x:1259,y:y-8.5,width:36,height:17,fill:rhythmColors[i]});
  
  
  const t=txt(n,{x:1312,y:y+7,"font-size":21});
  
  
});
const genusColors={"g__Prevotella":"#6aa9d4","g__Bacteroides":"#9aabbb","g__Butyricimonas":"#87a7c1","g__norank":"#b8d0e4","g__Parabacteroides":"#acd5ef","g__Alistipes":"#cde7f7","g__Paraprevotella":"#cbe8e6","g__Barnesiella":"#e5bcbe","g__Muribaculum":"#e6d5e8","g__Odoribacter":"#f2b8b8","Others":"#c9e6d2"};
const sumG=genusValues.reduce((a,b)=>a+b,0);
let angG=0;
genusValues.forEach((v,i)=>{
  const a1=angG+v/sumG*360;
  const p=mk("path",{d:slicePath(1040,2412,181,angG,a1),fill:genusColors[genusNames[i]]});
  
  
  angG=a1;
});
const conn=mk("rect",{x:1037,y:2144,width:6,height:150,fill:"#1a1a1a"});


legendEOrder.forEach((n,i)=>{
  const y=2182+i*29.8;
  const r=mk("rect",{x:1250,y:y-12.5,width:52,height:25,fill:genusColors[n]});
  
  
  const t=txt(n,{x:1312,y:y+8,"font-size":21,"letter-spacing":"0.6"});
  
  
});
</script>
</body></html>
